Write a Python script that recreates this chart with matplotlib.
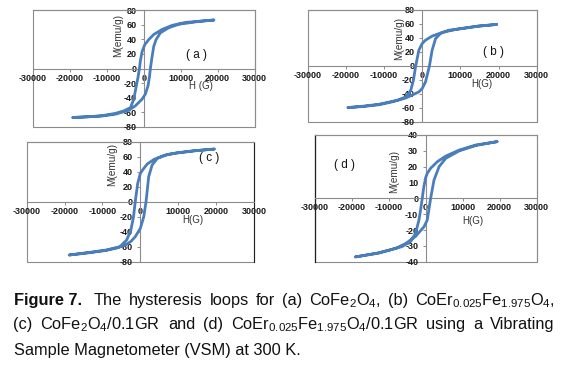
import matplotlib
matplotlib.use("Agg")
import matplotlib.pyplot as plt
from matplotlib.patches import Rectangle

plt.rcParams['font.family'] = ['Liberation Sans', 'DejaVu Sans']
plt.rcParams['axes.unicode_minus'] = False

# ---------------- data (H in G, M in emu/g) ----------------
x_ticks = [-30000, -20000, -10000, 0, 10000, 20000, 30000]
y_ticks_80 = [-80, -60, -40, -20, 0, 20, 40, 60, 80]
y_ticks_40 = [-40, -30, -20, -10, 0, 10, 20, 30, 40]

# (a) CoFe2O4
a_up_H = [19000, 14800, 11300, 7700, 5000, 2700, 1350, 270, -450, -900, -1170, -1540, -2080, -2700, -3600, -5400, -7700, -11300, -15000, -19200]
a_up_M = [66.3, 64.5, 63, 59, 53.5, 46.5, 39.5, 32.6, 23, 11, 0, -11.6, -25.6, -41.9, -53.5, -58, -61.4, -64.5, -66, -67]
a_lo_H = [-19200, -15000, -11300, -7700, -4070, -2260, -450, 450, 1170, 1540, 1800, 2260, 2700, 3340, 4500, 6800, 9500, 14800, 19000]
a_lo_M = [-67, -66, -65, -62.5, -57.2, -51, -41.9, -34.9, -23.3, -11.6, 0, 16.3, 30.2, 39.5, 48.8, 55.8, 60.5, 64.3, 66.3]

# (b) CoEr0.025Fe1.975O4
b_up_H = [19500, 14700, 9500, 5200, 2600, 870, 0, -870, -1700, -2300, -3000, -4300, -6500, -11300, -15600, -19500]
b_up_M = [59.3, 57, 53, 47.8, 42.6, 36.8, 32, 22.5, 0, -20.6, -35, -44.5, -49.3, -55, -57.9, -59.8]
b_lo_H = [-19500, -15600, -11300, -7800, -4300, -2300, -870, 0, 870, 1900, 2600, 3500, 4800, 6900, 9500, 14700, 19500]
b_lo_M = [-59.8, -58.3, -55.7, -51.5, -46, -41, -37.3, -32.5, -23, 0, 22.5, 39, 46.4, 51, 52.6, 56.8, 59.3]

# (c) CoFe2O4/0.1GR
c_up_H = [19500, 14300, 9800, 6300, 3600, 1800, 700, 0, -700, -1350, -1800, -2500, -3600, -5400, -9000, -13400, -18800]
c_up_M = [70.2, 68, 65.3, 61.8, 56.4, 50.2, 43, 37.8, 24.4, 0, -20, -37.8, -51, -60, -64.4, -67.6, -71.1]
c_lo_H = [-18800, -13400, -9000, -6000, -4000, -2500, -1350, 0, 900, 1500, 2200, 3100, 4500, 7200, 9800, 14300, 19500]
c_lo_M = [-71.1, -68, -65, -61.5, -57.8, -53, -46.7, -35.6, -20, 0, 33.3, 48.9, 57.8, 63, 65, 67.8, 70.2]

# (d) CoEr0.025Fe1.975O4/0.1GR
d_up_H = [19300, 13600, 9100, 5450, 3200, 1360, 450, 0, -500, -900, -1400, -1800, -2700, -4100, -6400, -9500, -12700, -19000]
d_up_M = [35.8, 33.7, 30.5, 26.7, 23.2, 19, 15.8, 13, 7, 0, -8, -13.7, -22, -27.4, -30.5, -32.5, -34.4, -37]
d_lo_H = [-19000, -12700, -8000, -5450, -2700, -450, 450, 1360, 2270, 3640, 5450, 9100, 13600, 19300]
d_lo_M = [-37, -34.6, -31.5, -28.6, -24, -18, -13.7, 0, 11.6, 20, 25.3, 30, 33.4, 35.8]

W, H = 565, 366
fig = plt.figure(figsize=(W / 100, H / 100), dpi=100)
fig.patch.set_facecolor('white')

CURVE = '#4A7EBB'
GRAY = '#8C8C8C'


def make_panel(box, up_H, up_M, lo_H, lo_M, yticks, ylim, hpos, hlab, mpos, tpos, tlab,
               dark_left=False, dark_right=False):
    l, r, t, b = box
    ax = fig.add_axes([l / W, 1 - b / H, (r - l) / W, (b - t) / H])
    ax.set_xlim(-30000, 30000)
    ax.set_ylim(-ylim, ylim)
    ax.spines['left'].set_position(('data', 0))
    ax.spines['bottom'].set_position(('data', 0))
    for s in ax.spines.values():
        s.set_color(GRAY)
        s.set_linewidth(0.8)
    ax.spines['right'].set_color('#222222' if dark_right else GRAY)
    ax.add_patch(Rectangle((0, 0), 1, 1, transform=ax.transAxes, fill=False,
                           ec=GRAY, lw=0.8, clip_on=False, zorder=0))
    if dark_left:
        ax.plot([0, 0], [0, 1], transform=ax.transAxes, color='#222222', lw=0.9, clip_on=False)
    ax.set_xticks(x_ticks, labels=[str(v) for v in x_ticks], fontweight='bold')
    ax.set_yticks(yticks, labels=[str(v) for v in yticks], fontweight='bold')
    ax.tick_params(direction='out', length=2.5, width=0.7, color=GRAY,
                   labelsize=6.5, labelcolor='#1a1a1a')
    ax.tick_params(axis='y', pad=2.8)
    ax.tick_params(axis='x', pad=1.2)
    ax.plot(list(up_H) + list(lo_H), list(up_M) + list(lo_M), color=CURVE, lw=2.0,
            solid_joinstyle='round', solid_capstyle='round', zorder=3)
    ax.text(hpos[0], hpos[1], hlab, ha='center', va='center', fontsize=7, color='#333333')
    ax.text(mpos[0], mpos[1], 'M(emu/g)', ha='center', va='center', rotation=90,
            fontsize=7.2, color='#333333')
    ax.text(tpos[0], tpos[1], tlab, ha='center', va='center', fontsize=8.5, color='#111111')
    ax.patch.set_alpha(0)
    return ax


make_panel((33, 254.5, 10, 127), a_up_H, a_up_M, a_lo_H, a_lo_M, y_ticks_80, 80,
           (15500, -24.5), 'H (G)', (-7000, 45.7), (14300, 18), '( a )')
make_panel((307.7, 536.7, 10, 121.7), b_up_H, b_up_M, b_lo_H, b_lo_M, y_ticks_80, 80,
           (15600, -26.5), 'H(G)', (-6100, 39), (18700, 20), '( b )')
make_panel((26.7, 254, 141.7, 261.7), c_up_H, c_up_M, c_lo_H, c_lo_M, y_ticks_80, 80,
           (13900, -25), 'H(G)', (-7400, 49), (18300, 58.7), '( c )', dark_right=True)
make_panel((314.5, 536.7, 135, 261.7), d_up_H, d_up_M, d_lo_H, d_lo_M, y_ticks_40, 40,
           (12700, -14.5), 'H(G)', (-8400, 16.8), (-21800, 21), '( d )', dark_left=True)

# ---------------- caption ----------------
CAP_SIZE = 11.8
CAP_COLOR = '#111111'
renderer = fig.canvas.get_renderer()

line1 = ['Figure 7.', 'The', 'hysteresis', 'loops', 'for', '(a)',
         r'CoFe$\mathregular{_2}$O$\mathregular{_4}$,', '(b)',
         r'CoEr$\mathregular{_{0.025}}$Fe$\mathregular{_{1.975}}$O$\mathregular{_4}$,']
line2 = ['(c)', r'CoFe$\mathregular{_2}$O$\mathregular{_4}$/0.1GR', 'and', '(d)',
         r'CoEr$\mathregular{_{0.025}}$Fe$\mathregular{_{1.975}}$O$\mathregular{_4}$/0.1GR',
         'using', 'a', 'Vibrating']
line3 = 'Sample Magnetometer (VSM) at 300 K.'


def justify(words, baseline, x0, x1, bold_first=False, extra_first=0.0):
    texts = []
    for i, w in enumerate(words):
        t = fig.text(0, 1 - baseline / H, w, fontsize=CAP_SIZE, color=CAP_COLOR,
                     va='baseline', ha='left',
                     fontweight='bold' if (bold_first and i == 0) else 'normal')
        texts.append(t)
    widths = [t.get_window_extent(renderer).width for t in texts]
    gap = (x1 - x0 - sum(widths) - extra_first) / (len(words) - 1)
    x = x0
    for i, (t, w) in enumerate(zip(texts, widths)):
        t.set_position((x / W, 1 - baseline / H))
        x += w + gap + (extra_first if i == 0 else 0)


justify(line1, 304.8, 13.5, 554.5, bold_first=True, extra_first=5)
justify(line2, 329.3, 13.5, 554.5)
fig.text(13.5 / W, 1 - 354.8 / H, line3, fontsize=CAP_SIZE, color=CAP_COLOR,
         va='baseline', ha='left')

fig.savefig('out.png', dpi=100)
